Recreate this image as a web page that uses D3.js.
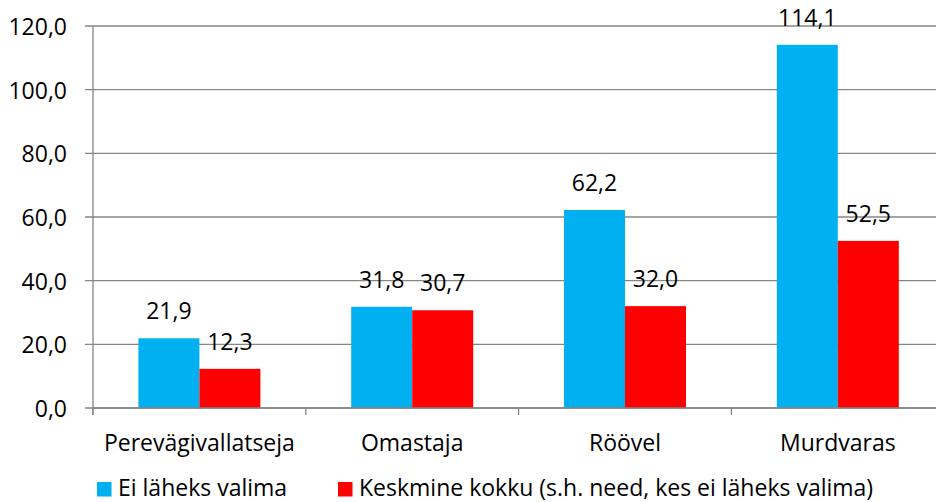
<!DOCTYPE html>
<html>
<head>
<meta charset="utf-8">
<script src="https://cdn.jsdelivr.net/npm/d3@7"></script>
<style>
  html, body { margin: 0; padding: 0; background: #fff; }
  svg { display: block; }
  text { font-family: "Open Sans", "Liberation Sans", sans-serif; fill: #000; }
</style>
</head>
<body>
<svg id="chart" width="936" height="502"></svg>
<script>
const categories = ["Perevägivallatseja", "Omastaja", "Röövel", "Murdvaras"];
const seriesNames = ["Ei läheks valima", "Keskmine kokku (s.h. need, kes ei läheks valima)"];
const seriesColors = ["#00B0F0", "#FF0000"];
const eiLaheks = [21.9, 31.8, 62.2, 114.1];
const keskmine = [12.3, 30.7, 32.0, 52.5];
const yTicks = [0, 20, 40, 60, 80, 100, 120];

(function () {
const values = [eiLaheks, keskmine];
const fmt = v => v.toFixed(1).replace(".", ",");

const svg = d3.select("#chart");
const FS = 23;

const pLeft = 93, pRight = 944.2, pTop = 26, pBottom = 408;

const y = d3.scaleLinear().domain([0, 120]).range([pBottom, pTop]);
const x = d3.scaleBand().domain(categories).range([pLeft, pRight]).paddingInner(0).paddingOuter(0);
const x1 = d3.scaleBand().domain(d3.range(seriesNames.length)).range([0, x.bandwidth()]).paddingInner(0).paddingOuter(0.744);

// gridlines
svg.append("g").selectAll("line").data(yTicks).join("line")
  .attr("x1", pLeft - 8).attr("x2", pRight)
  .attr("y1", d => y(d)).attr("y2", d => y(d))
  .attr("stroke", "#868686").attr("stroke-width", 1.3);

// y axis labels
svg.append("g").selectAll("text").data(yTicks).join("text")
  .attr("x", 67).attr("y", d => y(d))
  .attr("text-anchor", "end").attr("dominant-baseline", "central")
  .style("font-size", FS + "px")
  .text(d => fmt(d));

// bars
const groups = svg.append("g").selectAll("g").data(categories).join("g")
  .attr("transform", d => `translate(${x(d)},0)`);

groups.selectAll("rect").data((d, i) => values.map((vals, s) => ({s, v: vals[i]}))).join("rect")
  .attr("x", d => x1(d.s)).attr("width", x1.bandwidth())
  .attr("y", d => y(d.v)).attr("height", d => pBottom - y(d.v))
  .attr("fill", d => seriesColors[d.s]);

groups.selectAll("text.lbl").data((d, i) => values.map((vals, s) => ({s, v: vals[i]}))).join("text")
  .attr("class", "lbl")
  .attr("x", d => x1(d.s) + x1.bandwidth() / 2)
  .attr("y", d => y(d.v) - 19)
  .attr("text-anchor", "middle")
  .style("font-size", FS + "px")
  .text(d => fmt(d.v));

// axes lines
svg.append("line").attr("x1", pLeft).attr("x2", pLeft).attr("y1", pTop).attr("y2", pBottom + 7)
  .attr("stroke", "#868686").attr("stroke-width", 1.3);
svg.append("line").attr("x1", pLeft).attr("x2", pRight).attr("y1", pBottom).attr("y2", pBottom)
  .attr("stroke", "#868686").attr("stroke-width", 1.3);
const catTicks = categories.map(c => x(c)).concat([pRight]);
svg.append("g").selectAll("line").data(catTicks).join("line")
  .attr("x1", d => d).attr("x2", d => d).attr("y1", pBottom).attr("y2", pBottom + 7)
  .attr("stroke", "#868686").attr("stroke-width", 1.3);

// category labels
svg.append("g").selectAll("text").data(categories).join("text")
  .attr("x", d => x(d) + x.bandwidth() / 2).attr("y", 451)
  .attr("text-anchor", "middle")
  .style("font-size", FS + "px")
  .text(d => d);

// legend
const legendX = [97, 338];
const lg = svg.append("g").selectAll("g").data(seriesNames).join("g")
  .attr("transform", (d, i) => `translate(${legendX[i]},0)`);
lg.append("rect").attr("x", 0).attr("y", 482).attr("width", 14.5).attr("height", 14.5)
  .attr("fill", (d, i) => seriesColors[i]);
lg.append("text").attr("x", 21).attr("y", 496)
  .style("font-size", FS + "px")
  .text(d => d);
})();
</script>
</body>
</html>
